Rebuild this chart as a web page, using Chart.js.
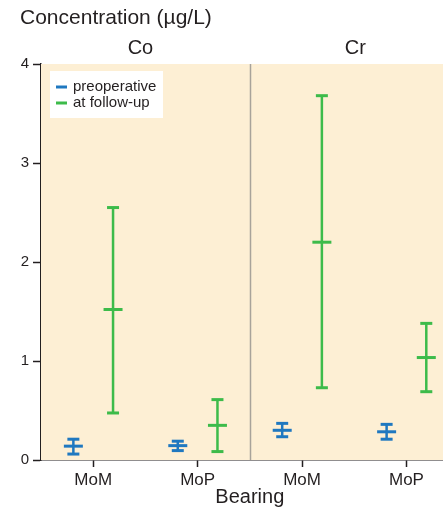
<!DOCTYPE html>
<html>
<head>
<meta charset="utf-8">
<script src="https://cdn.jsdelivr.net/npm/chart.js@4"></script>
<style>
  html, body { margin: 0; padding: 0; background: #fff; }
  #wrap { width: 443px; height: 510px; position: relative; }
</style>
</head>
<body>
<div id="wrap"><canvas id="chart" width="443" height="510"></canvas></div>
<script>
// panels and categories
const metals = ['Co', 'Cr'];
const bearings = ['MoM', 'MoP'];
const seriesNames = ['preoperative', 'at follow-up'];
const yTicks = [0, 1, 2, 3, 4];

// order: Co-MoM, Co-MoP, Cr-MoM, Cr-MoP
const preopMid = [0.14, 0.145, 0.30, 0.285];
const preopLow = [0.06, 0.095, 0.235, 0.21];
const preopHigh = [0.21, 0.19, 0.37, 0.36];

const followMid = [1.52, 0.35, 2.20, 1.035];
const followLow = [0.475, 0.085, 0.73, 0.69];
const followHigh = [2.55, 0.61, 3.68, 1.38];

const BLUE = '#1f78c0';
const GREEN = '#3dbb4a';
const CREAM = '#fdefd4';
const INK = '#231f20';
const FONT = "'Liberation Sans', Arial, sans-serif";

// group center = index + 0.5, the two series sit either side of it
const shift = 0.19;

function whiskers(low, high, off) {
  let pts = [];
  for (let i = 0; i < low.length; i++) {
    let x = i + 0.5 + off;
    pts.push({ x: x, y: low[i] });
    pts.push({ x: x, y: high[i] });
    pts.push({ x: x, y: null });
  }
  return pts;
}

function caps(low, high, off) {
  let pts = [];
  for (let i = 0; i < low.length; i++) {
    pts.push({ x: i + 0.5 + off, y: low[i] });
    pts.push({ x: i + 0.5 + off, y: high[i] });
  }
  return pts;
}

function mids(mid, off) {
  return mid.map((v, i) => ({ x: i + 0.5 + off, y: v }));
}

function seriesSets(name, color, mid, low, high, off) {
  return [
    {
      type: 'line',
      label: name,
      data: whiskers(low, high, off),
      borderColor: color,
      borderWidth: 2.5,
      pointRadius: 0,
      spanGaps: false,
    },
    {
      label: name + ' caps',
      data: caps(low, high, off),
      pointStyle: 'line',
      radius: 6,
      borderColor: color,
      borderWidth: 3,
    },
    {
      label: name + ' mid',
      data: mids(mid, off),
      pointStyle: 'line',
      radius: 9.5,
      borderColor: color,
      borderWidth: 3,
    },
  ];
}

const panelPlugin = {
  id: 'panels',
  beforeDatasetsDraw(chart) {
    const { ctx, chartArea, scales } = chart;
    ctx.save();
    ctx.fillStyle = CREAM;
    ctx.fillRect(chartArea.left, chartArea.top, chartArea.right - chartArea.left, chartArea.bottom - chartArea.top);
    const xd = Math.round(scales.x.getPixelForValue(2)) + 0.5;
    ctx.strokeStyle = '#a8a39a';
    ctx.lineWidth = 1.5;
    ctx.beginPath();
    ctx.moveTo(xd, chartArea.top);
    ctx.lineTo(xd, chartArea.bottom);
    ctx.stroke();
    ctx.restore();
  },
  afterDraw(chart) {
    const { ctx, chartArea, scales } = chart;
    ctx.save();
    ctx.fillStyle = INK;
    ctx.textBaseline = 'middle';

    // main title
    ctx.font = '21px ' + FONT;
    ctx.textAlign = 'left';
    ctx.fillText('Concentration (\u00b5g/L)', 20, 18);

    // panel headers
    ctx.font = '20px ' + FONT;
    ctx.textAlign = 'center';
    metals.forEach((m, i) => {
      const nudge = i === 0 ? -5 : 1;
      ctx.fillText(m, scales.x.getPixelForValue(i * 2 + 1) + nudge, 48.5);
    });

    // x axis title, centred under the panel divider
    ctx.fillText('Bearing', scales.x.getPixelForValue(2), 497);

    // legend box
    const lx = chartArea.left + 9;
    const ly = chartArea.top + 7;
    ctx.fillStyle = '#fff';
    ctx.fillRect(lx, ly, 113, 47);
    ctx.font = '15px ' + FONT;
    ctx.textAlign = 'left';
    [BLUE, GREEN].forEach((c, i) => {
      const yy = ly + 16 + i * 16;
      ctx.strokeStyle = c;
      ctx.lineWidth = 3;
      ctx.beginPath();
      ctx.moveTo(lx + 6, yy);
      ctx.lineTo(lx + 17, yy);
      ctx.stroke();
      ctx.fillStyle = INK;
      ctx.fillText(seriesNames[i], lx + 23, yy);
    });
    ctx.restore();
  },
};

const ctx = document.getElementById('chart').getContext('2d');

new Chart(ctx, {
  type: 'scatter',
  data: {
    datasets: [
      ...seriesSets(seriesNames[0], BLUE, preopMid, preopLow, preopHigh, -shift),
      ...seriesSets(seriesNames[1], GREEN, followMid, followLow, followHigh, shift),
    ],
  },
  options: {
    responsive: false,
    animation: false,
    layout: { autoPadding: false, padding: { top: 64, right: 0, bottom: 0, left: 0 } },
    plugins: {
      legend: { display: false },
      tooltip: { enabled: false },
      title: { display: false },
    },
    scales: {
      x: {
        type: 'linear',
        min: 0,
        max: 3.85,
        afterBuildTicks: (s) => {
          s.ticks = [0.5, 1.5, 2.5, 3.5].map((v) => ({ value: v }));
        },
        afterFit: (s) => {
          s.height = 50;
          s.paddingLeft = 0;
          s.paddingRight = 0;
        },
        grid: { drawOnChartArea: false, tickLength: 7, tickColor: INK, tickWidth: 1.5 },
        border: { color: INK, width: 1.5 },
        ticks: {
          color: INK,
          padding: 3,
          font: { family: FONT, size: 17 },
          callback: (v, i) => bearings[i % bearings.length],
        },
      },
      y: {
        min: 0,
        max: 4,
        afterBuildTicks: (s) => {
          s.ticks = yTicks.map((v) => ({ value: v }));
        },
        afterFit: (s) => {
          s.width = 41;
          s.paddingTop = 0;
          s.paddingBottom = 0;
        },
        grid: { drawOnChartArea: false, tickLength: 8, tickColor: INK, tickWidth: 1.5 },
        border: { color: INK, width: 1.5 },
        ticks: {
          color: INK,
          padding: 4,
          font: { family: FONT, size: 15 },
        },
      },
    },
  },
  plugins: [panelPlugin],
});
</script>
</body>
</html>
